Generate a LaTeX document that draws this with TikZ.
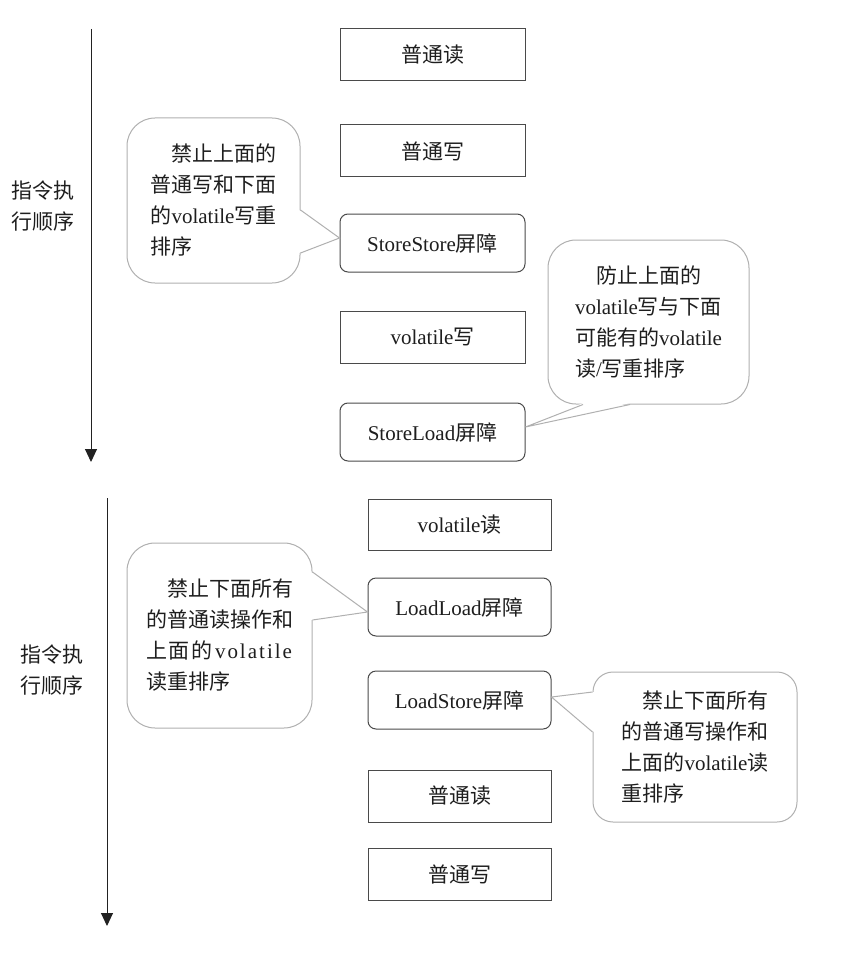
\documentclass[tikz,border=0pt]{standalone}
\usepackage{fontspec}
\setmainfont{Liberation Serif}
\newfontfamily\cjk{Noto Sans CJK SC}
\usetikzlibrary{arrows.meta,calc}
\definecolor{boxc}{HTML}{4A4A4A}
\definecolor{bubc}{HTML}{B0B0B0}
\definecolor{arrc}{HTML}{222222}
\definecolor{txtc}{HTML}{1E1E1E}
\tikzset{
  sqbox/.style={draw=boxc, line width=1pt, fill=white, minimum width=185pt, minimum height=52pt,
    inner sep=0pt, text=txtc, font=\fontsize{21}{31}\selectfont},
  rdbox/.style={sqbox, rounded corners=8pt, minimum height=58pt},
  bubble/.style={draw=bubc, line width=1pt, fill=white, rounded corners=28pt, inner sep=0pt,
    align=left, text=txtc, font=\fontsize{21}{31}\selectfont},
  tailfill/.style={fill=white},
  tailline/.style={draw=bubc, line width=1pt, line join=miter},
  flow/.style={draw=arrc, line width=1pt, -{Triangle[width=12pt,length=13pt]}},
  lab/.style={align=center, inner sep=0pt, text=txtc, font=\fontsize{21}{31}\selectfont},
}
\begin{document}
\begin{tikzpicture}[x=1pt,y=-1pt]
\useasboundingbox (0,0) rectangle (856,960);

% ---------- top group ----------
\coordinate (a1s) at (91,29);
\coordinate (a1e) at (91,462);
\draw[flow] (a1s) -- (a1e);
\node[lab] (lab1) at (43,206) {{\cjk 指令执}\\{\cjk 行顺序}};

\node[sqbox] (b1) at (432.5,55) {\cjk 普通读};
\node[sqbox] (b2) at (432.5,151) {\cjk 普通写};
\node[rdbox] (ss) at (432.5,243) {StoreStore{\cjk 屏障}};
\node[sqbox] (vw) at (432.5,337) {volatile{\cjk 写}};
\node[rdbox] (sl) at (432.5,432) {StoreLoad{\cjk 屏障}};

\node[bubble, minimum width=173pt, minimum height=165pt] (c1) at (213.5,200.5)
  {\hspace*{1em}{\cjk 禁止上面的}\\{\cjk 普通写和下面}\\{\cjk 的}volatile{\cjk 写重}\\{\cjk 排序}};
\coordinate (t1) at ($(ss.west)+(0,-5)$);
\fill[tailfill] ($(c1.east)+(-1.5,9.5)$) -- (t1) -- ($(c1.east)+(-1.5,52.5)$) -- cycle;
\draw[tailline] ($(c1.east)+(0,9.5)$) -- (t1) -- ($(c1.east)+(0,52.5)$);

\node[bubble, minimum width=201pt, minimum height=164pt] (c2) at (648.5,322)
  {\hspace*{1em}{\cjk 防止上面的}\\volatile{\cjk 写与下面}\\{\cjk 可能有的}volatile\\{\cjk 读}/{\cjk 写重排序}};
\coordinate (t2) at ($(sl.east)+(0,-5)$);
\fill[tailfill] ($(c2.south)+(-65.5,-1.5)$) -- (t2) -- ($(c2.south)+(-18.5,-1.5)$) -- cycle;
\draw[tailline] ($(c2.south)+(-65.5,0)$) -- (t2) -- ($(c2.south)+(-18.5,0)$);

% ---------- bottom group ----------
\coordinate (a2s) at (107,498);
\coordinate (a2e) at (107,926);
\draw[flow] (a2s) -- (a2e);
\node[lab] (lab2) at (52,670) {{\cjk 指令执}\\{\cjk 行顺序}};

\node[sqbox, minimum width=183pt, minimum height=51pt] (vr) at (459.5,524.5) {volatile{\cjk 读}};
\node[rdbox, minimum width=183pt] (ll) at (459.5,607) {LoadLoad{\cjk 屏障}};
\node[rdbox, minimum width=183pt] (ls) at (459.5,700) {LoadStore{\cjk 屏障}};
\node[sqbox, minimum width=183pt] (r2) at (459.5,796) {\cjk 普通读};
\node[sqbox, minimum width=183pt] (w2) at (459.5,874) {\cjk 普通写};

\node[bubble, minimum width=185pt, minimum height=185pt] (c3) at (219.5,635.5)
  {\hspace*{1em}{\cjk 禁止下面所有}\\{\cjk 的普通读操作和}\\
   \makebox[146pt][s]{{\cjk 上}\hfil{\cjk 面}\hfil{\cjk 的}\hfil v\hfil o\hfil l\hfil a\hfil t\hfil i\hfil l\hfil e}\\{\cjk 读重排序}};
\coordinate (t3) at ($(ll.west)+(0,5)$);
\fill[tailfill] ($(c3.east)+(-1.5,-63.5)$) -- (t3) -- ($(c3.east)+(-1.5,-15.5)$) -- cycle;
\draw[tailline] ($(c3.east)+(0,-63.5)$) -- (t3) -- ($(c3.east)+(0,-15.5)$);

\node[bubble, rounded corners=20pt, minimum width=204pt, minimum height=150pt] (c4) at (695,747)
  {\hspace*{1em}{\cjk 禁止下面所有}\\{\cjk 的普通写操作和}\\{\cjk 上面的}volatile{\cjk 读}\\{\cjk 重排序}};
\coordinate (t4) at ($(ls.east)+(0,-3)$);
\fill[tailfill] ($(c4.west)+(1.5,-55)$) -- (t4) -- ($(c4.west)+(1.5,-15)$) -- cycle;
\draw[tailline] ($(c4.west)+(0,-55)$) -- (t4) -- ($(c4.west)+(0,-15)$);
\end{tikzpicture}
\end{document}
